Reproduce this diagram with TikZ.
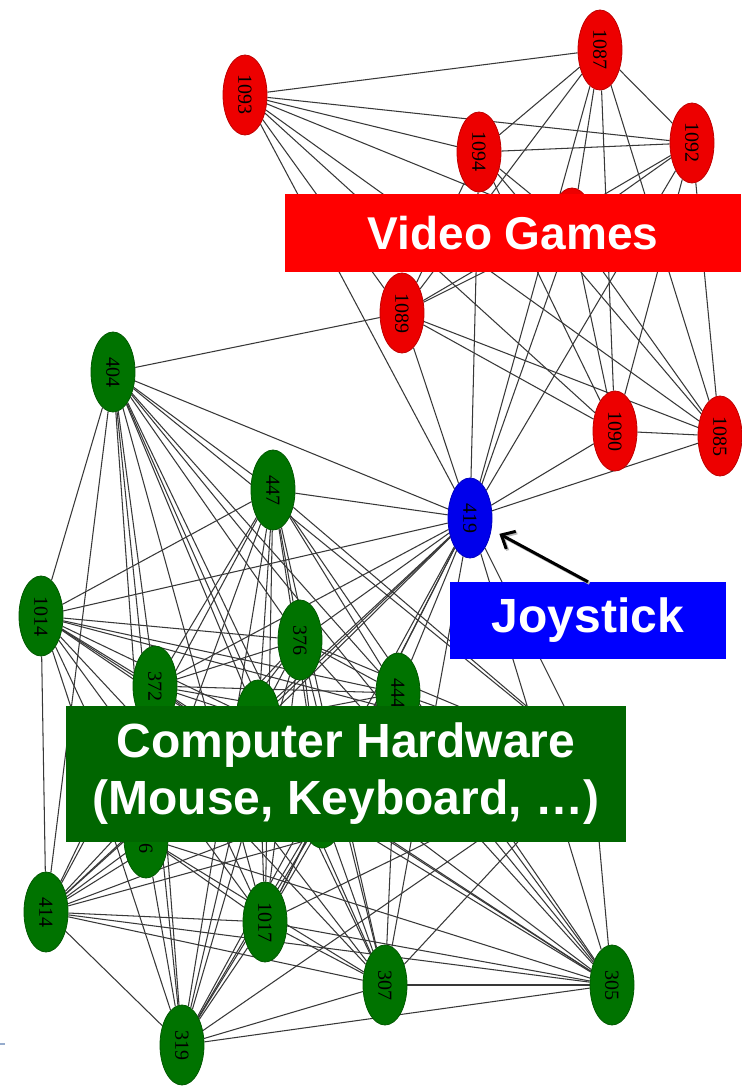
\documentclass[tikz,border=0pt]{standalone}
\usepackage{fontspec}
\setmainfont{Liberation Sans}
\newfontfamily\digitfont{Liberation Serif}
\usetikzlibrary{shapes.geometric,arrows.meta}
\pgfdeclarelayer{bglayer}
\pgfdeclarelayer{edgelayer}
\pgfsetlayers{bglayer,edgelayer,main}
\begin{document}
\begin{tikzpicture}[x=1pt,y=-1pt,
  vnode/.style={ellipse, rotate=-90, minimum width=80pt, minimum height=44pt, inner sep=0pt,
    font=\digitfont\fontsize{20}{20}\selectfont, text=black, line width=0.8pt},
  rednode/.style={vnode, fill=red!93!black, draw=red!75!black},
  greennode/.style={vnode, fill=green!45!black, draw=green!35!black},
  bluenode/.style={vnode, fill=blue!92!black, draw=blue!75!black},
  link/.style={draw=black!78, line width=1.05pt},
  banner/.style={inner sep=0pt, text=white, font=\bfseries\fontsize{48}{57}\selectfont, align=center}
]
\begin{pgfonlayer}{bglayer}
\fill[white] (0,0) rectangle (741,1086);
\end{pgfonlayer}
\useasboundingbox (0,0) rectangle (741,1086);

% red nodes
\node[rednode] (r1093) at (245,95) {1093};
\node[rednode] (r1087) at (600,50) {1087};
\node[rednode] (r1094) at (479,152) {1094};
\node[rednode] (r1092) at (692,143) {1092};
\node[rednode] (rH) at (572,228) {};
\node[rednode] (r1089) at (402,313) {1089};
\node[rednode] (r1090) at (615,431) {1090};
\node[rednode] (r1085) at (720,436) {1085};
% blue node
\node[bluenode] (b419) at (470,518) {419};
% green nodes
\node[greennode] (g404) at (113,372) {404};
\node[greennode] (g447) at (273,490) {447};
\node[greennode] (g1014) at (41,616) {1014};
\node[greennode] (g376) at (300,640) {376};
\node[greennode] (g372) at (155,686) {372};
\node[greennode] (gH1) at (258,720) {375};
\node[greennode] (g444) at (398,693) {444};
\node[greennode] (gH2) at (322,808) {};
\node[greennode] (gH3) at (592,762) {};
\node[greennode] (g6) at (146,838) {316};
\node[greennode] (g414) at (46,912) {414};
\node[greennode] (g1017) at (265,922) {1017};
\node[greennode] (g307) at (385,985) {307};
\node[greennode] (g305) at (612,985) {305};
\node[greennode] (g319) at (182,1045) {319};

\begin{pgfonlayer}{edgelayer}
  \foreach \a [count=\i] in {r1093,r1087,r1094,r1092,rH,r1089,r1090,r1085}{
    \foreach \b [count=\j] in {r1093,r1087,r1094,r1092,rH,r1089,r1090,r1085}{
      \ifnum\j>\i \draw[link] (\a) -- (\b); \fi
    }
  }
  \foreach \a [count=\i] in {g404,g447,g1014,g376,g372,gH1,g444,gH2,gH3,g6,g414,g1017,g307,g305,g319}{
    \foreach \b [count=\j] in {g404,g447,g1014,g376,g372,gH1,g444,gH2,gH3,g6,g414,g1017,g307,g305,g319}{
      \ifnum\j>\i \draw[link] (\a) -- (\b); \fi
    }
  }
  \foreach \a in {r1093,r1087,r1094,r1092,rH,r1089,r1090,r1085,
                  g404,g447,g1014,g376,g372,gH1,g444,gH2,gH3,g6,g414,g1017,g307,g305,g319}{
    \draw[link] (b419) -- (\a);
  }
  \draw[link] (g404) -- (r1089);
\end{pgfonlayer}

% banners
\node[banner, fill=red, minimum width=456pt, minimum height=78pt, font=\bfseries\fontsize{46}{57}\selectfont] (vg) at (513,233) {Video Games};
\node[banner, fill=blue, minimum width=276pt, minimum height=77pt] (joy) at (588,620.5) {Joystick};
\node[banner, fill=green!40!black, minimum width=560pt, minimum height=136pt] (hw) at (346,774) {Computer Hardware\\(Mouse, Keyboard, …)};

% arrow to joystick node
\draw[gray!55, line width=3pt, shorten >=9pt, -{Straight Barb[length=11pt,width=20pt]},
  transform canvas={shift={(1.5pt,-1.5pt)}}] (joy.north) -- (b419);
\draw[black, line width=3pt, shorten >=9pt, -{Straight Barb[length=11pt,width=20pt]}] (joy.north) -- (b419);

% small slide mark
\draw[color={rgb,255:red,150;green,172;blue,205}, line width=2pt] (0,1044) -- (5,1044);
\end{tikzpicture}
\end{document}
